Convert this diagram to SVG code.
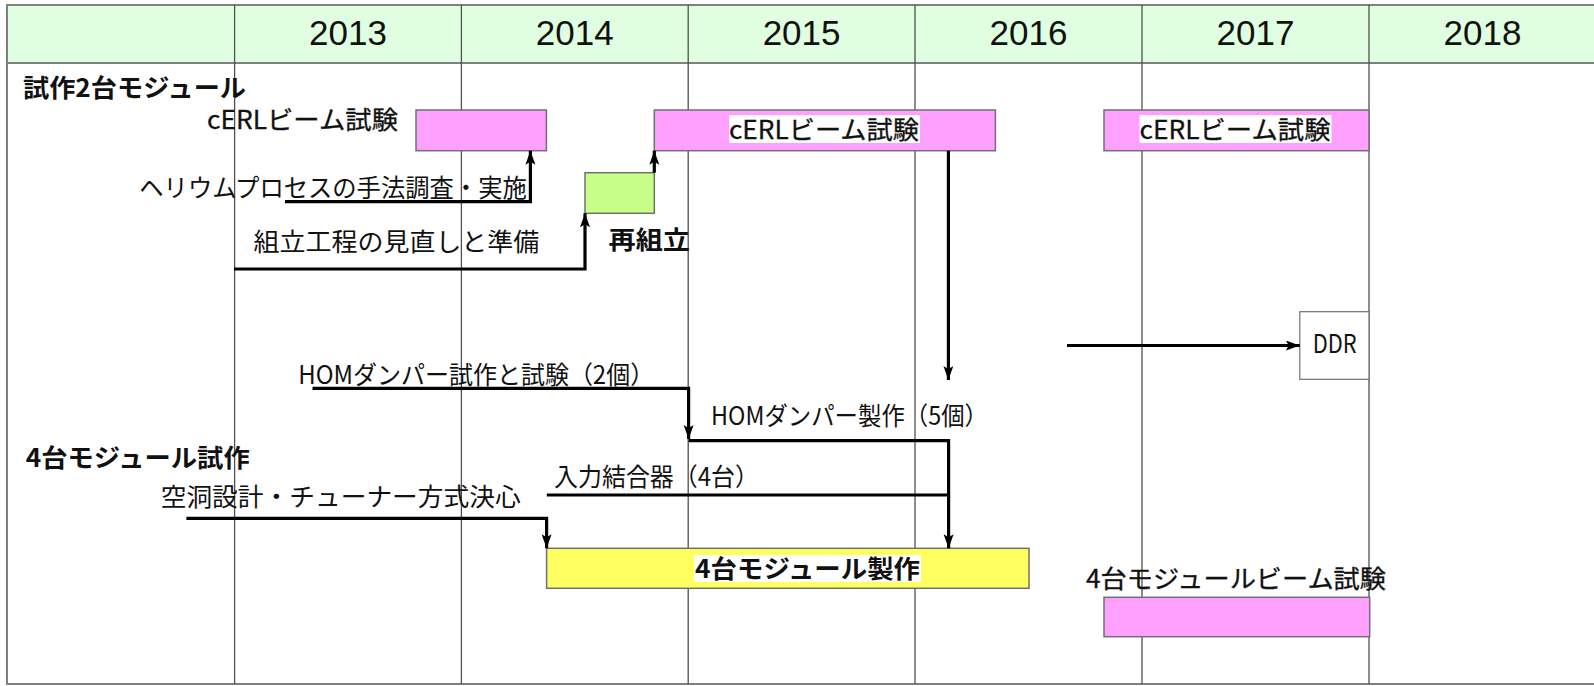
<svg xmlns="http://www.w3.org/2000/svg" width="1594" height="686" viewBox="0 0 1594 686">
<style>
.frame{fill:none;stroke:#808080;stroke-width:2}
.hdr{fill:#E0FFE0;stroke:#808080;stroke-width:2}
.col{stroke:#505050;stroke-width:1.3}
.yr{font-family:"Liberation Sans",Arial,sans-serif;font-size:35px;fill:#111;text-anchor:middle}
.t{font-family:"Noto Sans CJK JP","Noto Sans CJK SC",sans-serif;font-size:25px;fill:#111;font-weight:normal}
.b{font-weight:bold}
.m{stroke:#111;stroke-width:0.3}
.pink{fill:#FFA0FF;stroke:#707070;stroke-width:1.5}
.green{fill:#C8FF88;stroke:#707070;stroke-width:1.5}
.yellow{fill:#FFFF60;stroke:#707070;stroke-width:1.5}
.white{fill:#fff;stroke:#707070;stroke-width:1.2}
.lbg{fill:#fff}
.conn{fill:none;stroke:#000;stroke-width:3.2}
</style>
<defs>
<marker id="ah" markerUnits="userSpaceOnUse" markerWidth="15" markerHeight="11" refX="14" refY="5" orient="auto">
<path d="M0,0 L14,5 L0,10 L3,5 z" fill="#000"/>
</marker>
</defs>
<rect width="1594" height="686" fill="#fff"/>
<g id="grid">
<rect class="hdr" x="7" y="5" width="1600" height="58"/>
<rect class="frame" x="7" y="5" width="1600" height="679"/>
<line class="col" x1="234.6" y1="5" x2="234.6" y2="684"/>
<line class="col" x1="461.4" y1="5" x2="461.4" y2="684"/>
<line class="col" x1="688.2" y1="5" x2="688.2" y2="684"/>
<line class="col" x1="915" y1="5" x2="915" y2="684"/>
<line class="col" x1="1142" y1="5" x2="1142" y2="684"/>
<line class="col" x1="1369" y1="5" x2="1369" y2="684"/>
<text class="yr" x="348" y="45">2013</text>
<text class="yr" x="574.8" y="45">2014</text>
<text class="yr" x="801.6" y="45">2015</text>
<text class="yr" x="1028.5" y="45">2016</text>
<text class="yr" x="1255.5" y="45">2017</text>
<text class="yr" x="1482.5" y="45">2018</text>
</g>
<g id="labels">
<text class="t b" x="23" y="97" textLength="223" lengthAdjust="spacingAndGlyphs">試作2台モジュール</text>
<text class="t b" x="25.7" y="466.5" textLength="224" lengthAdjust="spacingAndGlyphs">4台モジュール試作</text>
</g>
<g id="node-cerl1">
<rect class="pink" x="416" y="110" width="130.4" height="40.7"/>
<text class="t m" x="207" y="128.5" textLength="191" lengthAdjust="spacingAndGlyphs">cERLビーム試験</text>
</g>
<g id="node-reassembly">
<rect class="green" x="585" y="172.7" width="69.3" height="40.6"/>
<text class="t b" x="608.6" y="249" textLength="81.4" lengthAdjust="spacingAndGlyphs">再組立</text>
</g>
<g id="node-cerl2">
<rect class="pink" x="654.3" y="110" width="341.1" height="40.7"/>
<rect class="lbg" x="729" y="115" width="191" height="28"/>
<text class="t m" x="729" y="138.5" textLength="190" lengthAdjust="spacingAndGlyphs">cERLビーム試験</text>
</g>
<g id="node-cerl3">
<rect class="pink" x="1104" y="110" width="265" height="40.7"/>
<rect class="lbg" x="1139.5" y="115" width="192" height="28"/>
<text class="t m" x="1139.5" y="138.5" textLength="191" lengthAdjust="spacingAndGlyphs">cERLビーム試験</text>
</g>
<g id="node-ddr">
<rect class="white" x="1299.8" y="311.7" width="69.2" height="67.6"/>
<text class="t" x="1312.7" y="353" textLength="44" lengthAdjust="spacingAndGlyphs">DDR</text>
</g>
<g id="node-module4">
<rect class="yellow" x="546.6" y="548.3" width="482.4" height="40"/>
<rect class="lbg" x="694" y="555" width="227" height="27"/>
<text class="t b" x="695" y="578" textLength="225" lengthAdjust="spacingAndGlyphs">4台モジュール製作</text>
</g>
<g id="node-module4-beam">
<rect class="pink" x="1104" y="597.3" width="265.7" height="39.4"/>
<text class="t m" x="1086" y="587.5" textLength="300" lengthAdjust="spacingAndGlyphs">4台モジュールビーム試験</text>
</g>
<g id="connectors">
<path class="conn" d="M285,201.7 H530.4 V150.7" marker-end="url(#ah)"/>
<path class="conn" d="M234,269 H585 V213.3" marker-end="url(#ah)"/>
<path class="conn" d="M654.3,172.7 V150.7" marker-end="url(#ah)"/>
<path class="conn" d="M948.4,150.7 V380" marker-end="url(#ah)"/>
<path class="conn" d="M1067,345.5 H1299.8" marker-end="url(#ah)"/>
<path class="conn" d="M312.5,388.3 H688.6 V439" marker-end="url(#ah)"/>
<path class="conn" d="M688.6,440.7 H948.6 V548.3" marker-end="url(#ah)"/>
<path class="conn" d="M546.8,495 H948.6"/>
<path class="conn" d="M186.4,518.3 H546.6 V548.3" marker-end="url(#ah)"/>
<text class="t" x="139.3" y="197" textLength="387.5" lengthAdjust="spacingAndGlyphs">ヘリウムプロセスの手法調査・実施</text>
<text class="t" x="253.6" y="250.5" textLength="285.7" lengthAdjust="spacingAndGlyphs">組立工程の見直しと準備</text>
<text class="t" x="298.2" y="383.5" textLength="356" lengthAdjust="spacingAndGlyphs">HOMダンパー試作と試験（2個）</text>
<text class="t" x="711" y="424.5" textLength="277" lengthAdjust="spacingAndGlyphs">HOMダンパー製作（5個）</text>
<text class="t" x="554" y="485.5" textLength="205" lengthAdjust="spacingAndGlyphs">入力結合器（4台）</text>
<text class="t" x="160.7" y="505.5" textLength="360" lengthAdjust="spacingAndGlyphs">空洞設計・チューナー方式決心</text>
</g>
</svg>
